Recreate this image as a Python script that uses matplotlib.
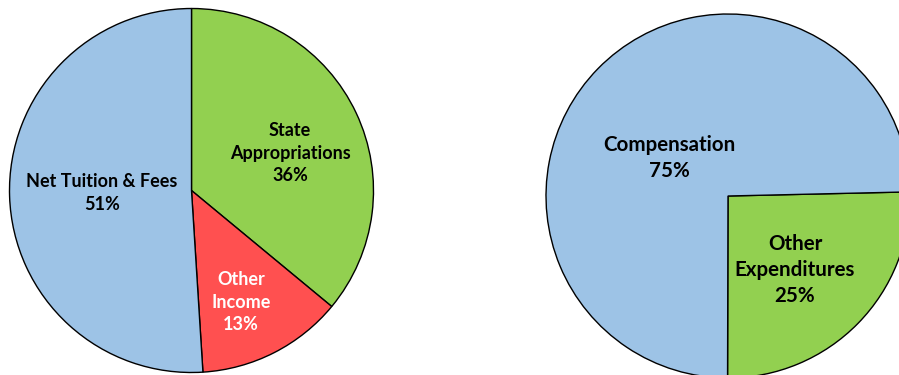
import matplotlib.pyplot as plt

plt.rcParams['font.family'] = ['Lato', 'DejaVu Sans']

# revenue pie
rev_labels = ['State\nAppropriations', 'Other\nIncome', 'Net Tuition & Fees']
rev_values = [36, 13, 51]
rev_colors = ['#92D050', '#FF5050', '#9DC3E6']
rev_text_colors = ['black', 'white', 'black']

# expenditure pie
exp_labels = ['Other\nExpenditures', 'Compensation']
exp_values = [25.4, 74.6]
exp_pct = ['25%', '75%']
exp_colors = ['#92D050', '#9DC3E6']

W, H = 899, 375
fig = plt.figure(figsize=(W / 100, H / 100), dpi=100)
ax = fig.add_axes([0, 0, 1, 1])

R = 182
c1 = (191.5, H - 190.5)
c2 = (728, H - 196)

wp = dict(edgecolor='black', linewidth=1.0)
ax.pie(rev_values, colors=rev_colors, startangle=90, counterclock=False,
       center=c1, radius=R, wedgeprops=wp, frame=True)
ax.pie(exp_values, colors=exp_colors, startangle=1.3, counterclock=False,
       center=c2, radius=R, wedgeprops=wp, frame=True)
ax.set_xlim(0, W)
ax.set_ylim(0, H)
ax.set_aspect('equal')
ax.axis('off')

# label offsets from pie centre, pixels
rev_pos = [(98.5, 37.5), (49.5, -111.5), (-89.8, -2.5)]
exp_pos = [(67, -74), (-59, 38)]

for lab, v, (dx, dy), col in zip(rev_labels, rev_values, rev_pos, rev_text_colors):
    ax.text(c1[0] + dx, c1[1] + dy, f'{lab}\n{v}%', ha='center', va='center',
            fontsize=13, fontweight='bold', color=col, linespacing=1.38)
for lab, p, (dx, dy) in zip(exp_labels, exp_pct, exp_pos):
    ax.text(c2[0] + dx, c2[1] + dy, f'{lab}\n{p}', ha='center', va='center',
            fontsize=14.8, fontweight='bold', color='black', linespacing=1.38)

fig.savefig('out.png', dpi=100)
